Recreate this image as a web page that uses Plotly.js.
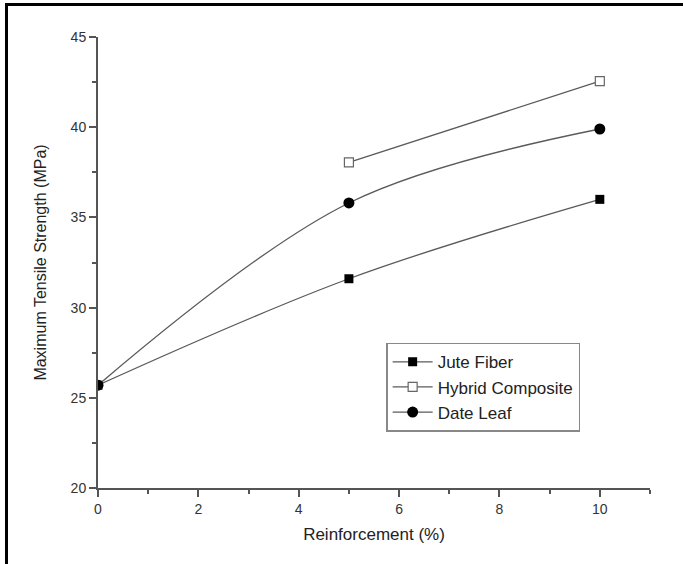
<!DOCTYPE html>
<html>
<head>
<meta charset="utf-8">
<script src="https://cdn.plot.ly/plotly-3.0.1.min.js"></script>
<style>
  html, body { margin: 0; padding: 0; background: #fff; }
  #frame { position: absolute; left: 5px; top: 3px; width: 690px; height: 570px;
           border-left: 3px solid #000; border-top: 3px solid #000; pointer-events: none; }
  #chart { position: absolute; left: 0; top: 0; width: 683px; height: 564px; }
</style>
</head>
<body>
<div id="chart"></div>
<div id="frame"></div>
<script>
const reinforcement = [0, 5, 10];
const juteFiber = [25.7, 31.6, 36.0];
const dateLeaf = [25.7, 35.8, 39.9];
const hybridX = [5, 10];
const hybridComposite = [38.05, 42.55];

const lineColor = '#5a5a5a';
const font = { family: 'Liberation Sans, Arial, sans-serif', color: '#333' };

const traces = [
  {
    name: 'Jute Fiber', x: reinforcement, y: juteFiber, type: 'scatter', mode: 'lines+markers',
    line: { color: lineColor, width: 1.3, shape: 'spline' },
    marker: { symbol: 'square', size: 9, color: '#000', line: { color: '#000', width: 0 } }
  },
  {
    name: 'Hybrid Composite', x: hybridX, y: hybridComposite, type: 'scatter', mode: 'lines+markers',
    line: { color: lineColor, width: 1.3, shape: 'spline' },
    marker: { symbol: 'square', size: 9, color: '#fff', line: { color: '#666', width: 1.2 } }
  },
  {
    name: 'Date Leaf', x: reinforcement, y: dateLeaf, type: 'scatter', mode: 'lines+markers',
    line: { color: lineColor, width: 1.3, shape: 'spline' },
    marker: { symbol: 'circle', size: 11, color: '#000', line: { color: '#000', width: 0 } }
  }
];

const layout = {
  width: 683, height: 564,
  margin: { l: 98, r: 33, t: 37, b: 76 },
  paper_bgcolor: 'rgba(0,0,0,0)', plot_bgcolor: '#fff',
  font: font,
  showlegend: true,
  legend: {
    x: 0.522, y: 0.322, xanchor: 'left', yanchor: 'top',
    bgcolor: '#fff', bordercolor: '#888', borderwidth: 1.5,
    font: { family: font.family, size: 17, color: '#222' },
    tracegroupgap: 0, itemwidth: 40
  },
  xaxis: {
    range: [0, 11], dtick: 2, tick0: 0,
    showgrid: false, zeroline: false,
    showline: true, linecolor: '#555', linewidth: 2,
    ticks: 'outside', ticklen: 7, tickwidth: 2, tickcolor: '#555',
    minor: { dtick: 1, ticks: 'outside', ticklen: 4, tickwidth: 2, tickcolor: '#555' },
    tickfont: { family: font.family, size: 14, color: '#333' },
    title: { text: 'Reinforcement (%)', font: { family: font.family, size: 17, color: '#222' }, standoff: 12 }
  },
  yaxis: {
    range: [20, 45], dtick: 5, tick0: 20,
    showgrid: false, zeroline: false,
    showline: true, linecolor: '#555', linewidth: 2,
    ticks: 'outside', ticklen: 7, tickwidth: 2, tickcolor: '#555',
    minor: { dtick: 2.5, ticks: 'outside', ticklen: 4, tickwidth: 2, tickcolor: '#555' },
    tickfont: { family: font.family, size: 14, color: '#333' },
    title: { text: 'Maximum Tensile Strength (MPa)', font: { family: font.family, size: 16, color: '#222' }, standoff: 20 }
  }
};

Plotly.newPlot('chart', traces, layout, { displayModeBar: false, staticPlot: true });
</script>
</body>
</html>
